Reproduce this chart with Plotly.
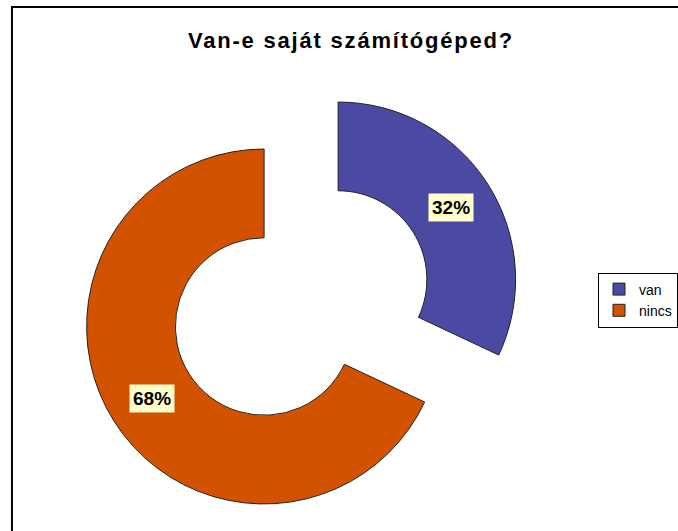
import math
import plotly.graph_objects as go

labels = ["van", "nincs"]
values = [32, 68]
colors = ["#4a4aa2", "#d35200"]
text_labels = ["32%", "68%"]

W, H = 678, 531
HOLE = 0.5
PULL = 0.247
R = 178.0
CX, CY = 302.0, 303.0
LABEL_R = (1 + HOLE) / 2  # mid-ring, as a fraction of the outer radius
half = R * (1 + PULL)
dom_x = [(CX - half) / W, (CX + half) / W]
dom_y = [1 - (CY + half) / H, 1 - (CY - half) / H]

fig = go.Figure()
fig.add_trace(go.Pie(
    labels=labels, values=values, hole=HOLE, sort=False,
    direction="clockwise", rotation=0, pull=[PULL] * len(values),
    marker=dict(colors=colors, line=dict(color="#222222", width=1)),
    textinfo="none", hoverinfo="label+percent",
    domain=dict(x=dom_x, y=dom_y),
))

# percentage labels with pale yellow background, positioned from the data
total = sum(values)
cum = 0
annotations = []
for v, t in zip(values, text_labels):
    mid = (cum + v / 2) / total * 2 * math.pi
    cum += v
    rr = R * LABEL_R + PULL * R
    px = CX + rr * math.sin(mid)
    py = CY - rr * math.cos(mid)
    annotations.append(dict(
        x=px / W, y=1 - py / H, xref="paper", yref="paper", text=t,
        xanchor="center", yanchor="middle",
        showarrow=False, bgcolor="#ffffcc",
        font=dict(family="Liberation Sans, Arial", size=19, color="black", weight="bold"),
        borderpad=3,
    ))

fig.update_layout(
    width=W, height=H,
    margin=dict(l=0, r=0, t=0, b=0),
    paper_bgcolor="white", plot_bgcolor="white",
    title=dict(text="<b>Van-e saját számítógéped?</b>", x=351 / W, xanchor="center",
               y=1 - 40 / H, yanchor="middle",
               font=dict(family="Liberation Sans, Arial", size=22, color="black")),
    legend=dict(x=600 / W, y=1 - 300 / H, xanchor="left", yanchor="middle",
                bordercolor="black", borderwidth=1, bgcolor="white",
                font=dict(family="Liberation Sans, Arial", size=14, color="black"),
                itemwidth=30),
    annotations=annotations,
    shapes=[dict(type="rect", xref="paper", yref="paper",
                 x0=12 / W, x1=1.02, y0=-0.02, y1=1 - 7 / H,
                 line=dict(color="black", width=2), layer="below")],
)

post = (
    "document.body.style.margin='0px';"
    "var t=document.querySelector('.gtitle'); if(t){t.style.letterSpacing='1.8px';}"
)
fig.write_html("out.html", post_script=post, config={"displayModeBar": False})
